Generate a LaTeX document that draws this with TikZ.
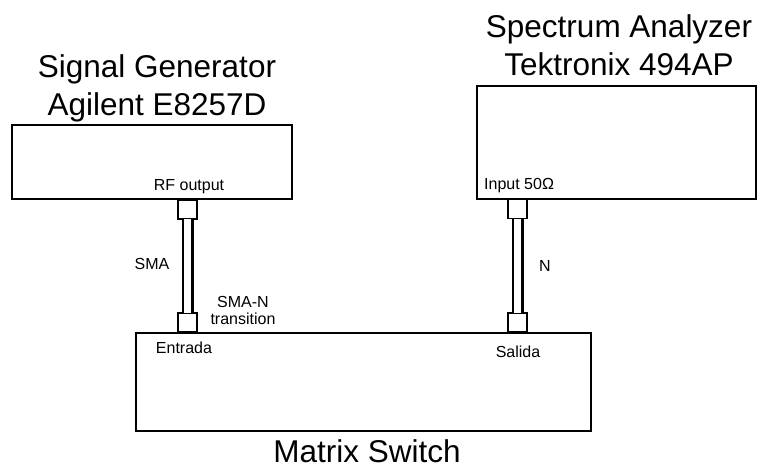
\documentclass[tikz,border=0pt]{standalone}
\usepackage{fontspec}
\setmainfont{Liberation Sans}
\begin{document}
\begin{tikzpicture}[x=1pt,y=-1pt,
  box/.style={draw, line width=1.5pt, inner sep=0pt, outer sep=0pt, anchor=north west},
  port/.style={draw, fill=white, line width=1.5pt, inner sep=0pt, outer sep=0pt, minimum width=19pt, minimum height=19pt},
  cable/.style={draw, double=white, line width=2.5pt, double distance=7pt},
  title/.style={font=\fontsize{31.5}{38}\selectfont, anchor=base, inner sep=0pt},
  small/.style={font=\fontsize{16}{18}\selectfont, anchor=base, inner sep=0pt}]
\useasboundingbox (0,0) rectangle (758,469);
% boxes
\node[box, minimum width=280pt, minimum height=74pt] (sg) at (12,125) {};
\node[box, minimum width=279pt, minimum height=113pt] (sa) at (477,86) {};
\node[box, minimum width=455pt, minimum height=98pt] (ms) at (136,333) {};
% ports
\node[port] (p1) at (187.5,209.5) {};
\node[port] (p2) at (187.5,322.5) {};
\node[port] (p3) at (517.5,209) {};
\node[port] (p4) at (517.5,322.5) {};
% cables
\draw[cable] (p1.south) -- (p2.north);
\draw[cable] (p3.south) -- (p4.north);
% titles
\node[title] (t1) at (157,77) {Signal Generator};
\node[title] (t2) at (157,115) {Agilent E8257D};
\node[title] (t3) at (619,37) {Spectrum Analyzer};
\node[title] (t4) at (619,75) {Tektronix 494AP};
\node[title] (t5) at (367,462) {Matrix Switch};
% small labels
\node[small] (l1) at (189,190) {RF output};
\node[small, anchor=base west] (l2) at (484,189) {Input 50Ω};
\node[small] (l3) at (152,269) {SMA};
\node[small] (l4) at (545,271) {N};
\node[small] (l5) at (243,307) {SMA-N};
\node[small] (l6) at (243,324) {transition};
\node[small] (l7) at (184,353) {Entrada};
\node[small] (l8) at (518,357) {Salida};
\end{tikzpicture}
\end{document}
